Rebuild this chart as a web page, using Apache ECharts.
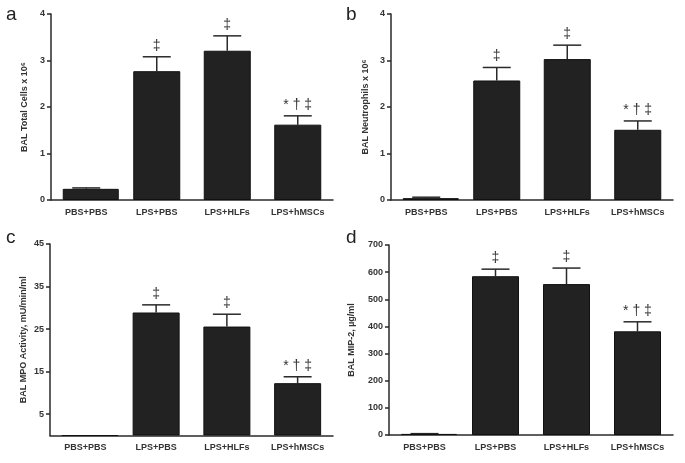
<!DOCTYPE html>
<html><head><meta charset="utf-8">
<script src="https://cdn.jsdelivr.net/npm/echarts@6/dist/echarts.min.js"></script>
<style>html,body{margin:0;padding:0;background:#fff}#c{width:685px;height:463px}</style>
</head><body><div id="c"></div>
<script>
var categories = ['PBS+PBS', 'LPS+PBS', 'LPS+HLFs', 'LPS+hMSCs'];
var valuesA = [0.24, 2.77, 3.21, 1.62];
var errTopA = [0.26, 3.08, 3.53, 1.81];
var valuesB = [0.04, 2.57, 3.03, 1.51];
var errTopB = [0.06, 2.85, 3.33, 1.70];
var valuesC = [0, 28.9, 25.6, 12.3];
var errTopC = [0, 30.7, 28.5, 13.8];
var valuesD = [4, 585, 556, 382];
var errTopD = [5, 611, 615, 417];
var marks = ['', '‡', '‡', '* † ‡'];
var ticksAB = [0, 1, 2, 3, 4];
var ticksC = [5, 15, 25, 35, 45];
var ticksD = [0, 100, 200, 300, 400, 500, 600, 700];
var names = ['BAL Total Cells x 10\u2076', 'BAL Neutrophils x 10\u2076', 'BAL MPO Activity, mU/min/ml', 'BAL MIP-2, \u00b5g/ml'];
var letters = ['a', 'b', 'c', 'd'];

var FONT = 'Liberation Sans, Arial, sans-serif';
var AX = '#2a2a2a';
var grids = [
  {left: 51, top: 14, width: 282, height: 186},
  {left: 391, top: 14, width: 282, height: 186},
  {left: 50, top: 244, width: 283, height: 191.5},
  {left: 389, top: 245, width: 284, height: 190}
];
var yCfg = [
  {min: 0, max: 4, ticks: ticksAB, gap: 22},
  {min: 0, max: 4, ticks: ticksAB, gap: 21},
  {min: 0, max: 45, ticks: ticksC, gap: 22},
  {min: 0, max: 700, ticks: ticksD, gap: 33}
];
var vals = [valuesA, valuesB, valuesC, valuesD];
var errs = [errTopA, errTopB, errTopC, errTopD];

var xAxes = [], yAxes = [], series = [], titles = [];
var barStyle = {color: '#222', borderColor: '#111', borderWidth: 1};
for (var k = 0; k < 4; k++) {
  xAxes.push({
    type: 'category', gridIndex: k, data: categories,
    axisLine: {lineStyle: {color: AX, width: 1.5}},
    axisTick: {show: false},
    axisLabel: {color: '#333', fontFamily: FONT, fontWeight: 'bold', fontSize: 9, margin: 8, interval: 0}
  });
  yAxes.push({
    type: 'value', gridIndex: k, min: yCfg[k].min, max: yCfg[k].max,
    name: names[k], nameLocation: 'middle', nameGap: yCfg[k].gap, nameRotate: 90,
    nameTextStyle: {color: '#333', fontFamily: FONT, fontWeight: 'bold', fontSize: 9},
    splitLine: {show: false},
    axisLine: {show: true, lineStyle: {color: AX, width: 1.5}},
    axisTick: {show: true, length: 4, customValues: yCfg[k].ticks, lineStyle: {color: AX, width: 1.5}},
    axisLabel: {color: '#333', fontFamily: FONT, fontWeight: 'bold', fontSize: 9, margin: 6, customValues: yCfg[k].ticks}
  });
  series.push({
    type: 'bar', xAxisIndex: k, yAxisIndex: k, barGap: '-100%',
    data: vals[k].map(function (v, i) { return i === 0 ? v : '-'; }), barWidth: 56,
    itemStyle: barStyle, silent: true
  });
  series.push({
    type: 'bar', xAxisIndex: k, yAxisIndex: k, barGap: '-100%',
    data: vals[k].map(function (v, i) { return i === 0 ? '-' : v; }), barWidth: 47,
    itemStyle: barStyle, silent: true
  });
  (function (kk) {
    series.push({
      type: 'custom', xAxisIndex: kk, yAxisIndex: kk, silent: true, z: 1,
      data: vals[kk].map(function (v, i) { return [i, v, errs[kk][i]]; }),
      renderItem: function (params, api) {
        var i = api.value(0);
        var p0 = api.coord([i, api.value(1)]);
        var p1 = api.coord([i, api.value(2)]);
        var hw = 14;
        var children = [];
        if (api.value(2) > api.value(1)) {
          children.push({type: 'line', shape: {x1: p0[0], y1: p0[1], x2: p1[0], y2: p1[1]}, style: {stroke: AX, lineWidth: 1.5}});
          children.push({type: 'line', shape: {x1: p1[0] - hw, y1: p1[1], x2: p1[0] + hw, y2: p1[1]}, style: {stroke: AX, lineWidth: 1.5}});
        }
        if (marks[i]) {
          children.push({type: 'text', x: p1[0], y: p1[1] - 4, style: {text: marks[i], fill: '#333', font: '14px ' + FONT, align: 'center', verticalAlign: 'bottom'}});
        }
        return {type: 'group', children: children};
      }
    });
  })(k);
}
titles = [
  {text: letters[0], left: 6, top: 5},
  {text: letters[1], left: 346, top: 5},
  {text: letters[2], left: 6, top: 228},
  {text: letters[3], left: 346, top: 228}
].map(function (t) { t.padding = 0; t.textStyle = {fontFamily: FONT, fontWeight: 'normal', fontSize: 19, color: '#222'}; return t; });

var chart = echarts.init(document.getElementById('c'), null, {renderer: 'canvas'});
chart.setOption({
  animation: false,
  backgroundColor: '#fff',
  title: titles,
  grid: grids,
  xAxis: xAxes,
  yAxis: yAxes,
  series: series
});
</script></body></html>
